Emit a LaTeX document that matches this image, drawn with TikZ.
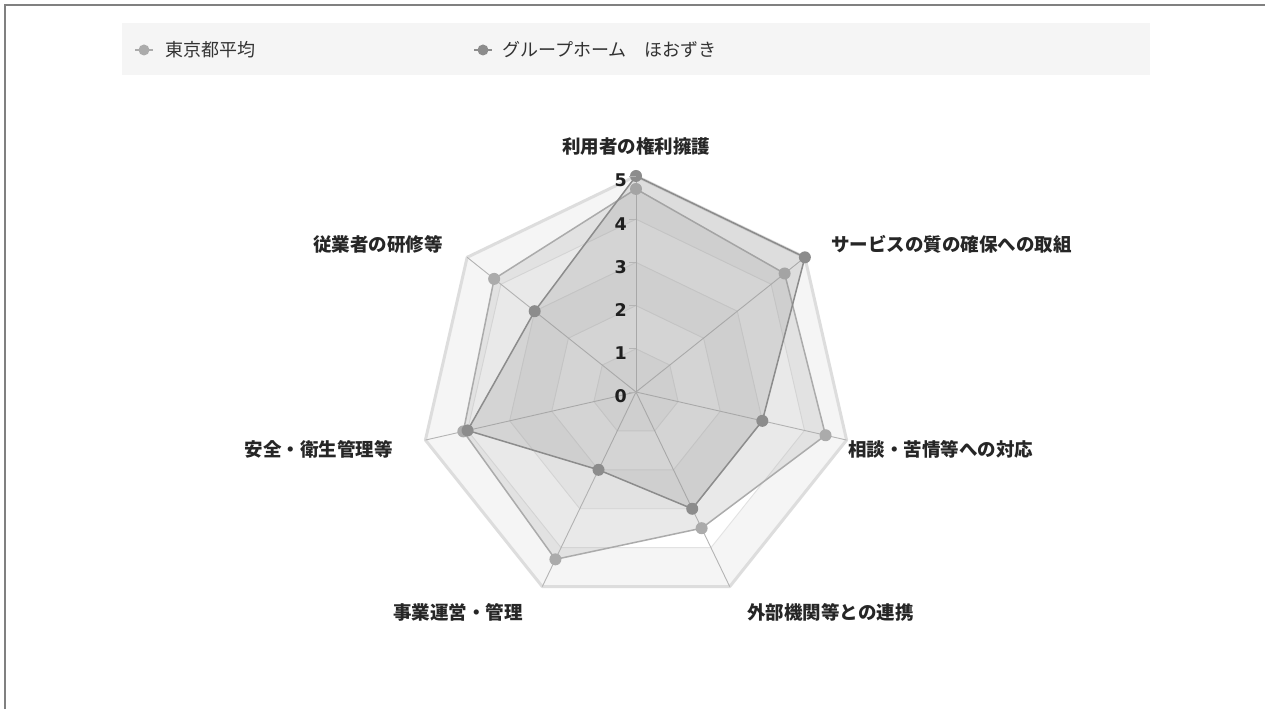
\documentclass[tikz,border=0pt]{standalone}
\usepackage{fontspec}
\setmainfont{Noto Sans CJK JP}
\newfontfamily\numfont[BoldFont={DejaVu Sans Bold}]{DejaVu Sans}
\definecolor{framecol}{HTML}{808080}
\definecolor{legbg}{HTML}{F5F5F5}
\definecolor{banddark}{HTML}{F5F5F5}
\definecolor{gridcol}{HTML}{E2E2E2}
\definecolor{outercol}{HTML}{DDDDDD}
\definecolor{spokecol}{HTML}{B4B4B4}
\definecolor{lightcol}{HTML}{ABABAB}
\definecolor{darkcol}{HTML}{8C8C8C}
\tikzset{
  axlbl/.style={font=\fontsize{18.5}{20}\selectfont\bfseries, inner sep=0pt, text=black!85},
  leglbl/.style={font=\fontsize{18}{20}\selectfont, inner sep=0pt, anchor=west, text=black!80},
  numlbl/.style={font=\numfont\bfseries\fontsize{17.5}{19}\selectfont, inner sep=0pt, anchor=east, text=black!88},
  spoke/.style={draw=spokecol, line width=0.9pt},
  gridline/.style={draw=gridcol, line width=0.9pt},
  outerline/.style={draw=outercol, line width=3pt, line join=round},
  lightser/.style={draw=lightcol, line width=1.5pt, fill=lightcol, fill opacity=0.25, line join=round},
  darkser/.style={draw=darkcol, line width=1.5pt, fill=darkcol, fill opacity=0.22, line join=round},
  lightmk/.style={fill=lightcol},
  darkmk/.style={fill=darkcol},
}
\begin{document}
\begin{tikzpicture}[x=1pt,y=1pt]
\useasboundingbox (0,0) rectangle (1265,709);
\fill[white] (0,0) rectangle (1265,709);
% frame
\coordinate (fb) at (4.5,0);
\coordinate (ftl) at (4.5,703.5);
\coordinate (ftr) at (1265,703.5);
\draw[framecol, line width=2pt] (fb) -- (ftl) -- (ftr);
% legend
\fill[legbg] (122,634) rectangle (1150,686);
\coordinate (l1a) at (135,659); \coordinate (l1b) at (153,659); \coordinate (l1c) at (144,659);
\draw[lightcol, line width=1.5pt] (l1a) -- (l1b);
\fill[lightcol] (l1c) circle (5.5);
\node[leglbl] (leg1) at (165,659) {東京都平均};
\coordinate (l2a) at (474,659); \coordinate (l2b) at (492,659); \coordinate (l2c) at (483,659);
\draw[darkcol, line width=1.5pt] (l2a) -- (l2b);
\fill[darkcol] (l2c) circle (5.5);
\node[leglbl] (leg2) at (502,659) {グループホーム　ほおずき};
% chart
\begin{scope}[shift={(636,317)}]
  \coordinate (c) at (0,0);
  \foreach \lv/\col in {5/banddark,4/white,3/banddark,2/white,1/banddark}{
    \fill[\col] (90:\lv*43.2) \foreach \i in {1,...,6}{ -- (90-\i*360/7:\lv*43.2)} -- cycle;
  }
  \foreach \lv in {1,...,4}{
    \draw[gridline] (90:\lv*43.2) \foreach \i in {1,...,6}{ -- (90-\i*360/7:\lv*43.2)} -- cycle;
  }
  \draw[outerline] (90:216) \foreach \i in {1,...,6}{ -- (90-\i*360/7:216)} -- cycle;
  \foreach \i in {0,...,6}{
    \coordinate (v\i) at (90-\i*360/7:216);
    \draw[spoke] (c) -- (v\i);
  }
  % series 1
  \foreach \v [count=\j from 0] in {4.7,4.4,4.5,3.5,4.3,4.1,4.2}{
    \coordinate (a\j) at (90-\j*360/7:\v*43.2);
  }
  \path[lightser] (a0) -- (a1) -- (a2) -- (a3) -- (a4) -- (a5) -- (a6) -- cycle;
  \foreach \j in {0,...,6}{ \fill[lightmk] (a\j) circle (6); }
  % series 2
  \foreach \v [count=\j from 0] in {5,5,3,3,2,4,3}{
    \coordinate (b\j) at (90-\j*360/7:\v*43.2);
  }
  \path[darkser] (b0) -- (b1) -- (b2) -- (b3) -- (b4) -- (b5) -- (b6) -- cycle;
  \foreach \j in {0,...,6}{ \fill[darkmk] (b\j) circle (6); }
  % scale ticks and numbers
  \foreach \k in {0,...,5}{
    \coordinate (t\k) at (0,\k*43.2);
    \draw[spoke] (t\k) -- ++(-7,0);
    \node[numlbl] (n\k) at (-9,\k*43.2-4.5) {\k};
  }
\end{scope}
% axis labels
\node[axlbl, anchor=center] (L0) at (636,563) {利用者の権利擁護};
\node[axlbl, anchor=west] (L1) at (831,465) {サービスの質の確保への取組};
\node[axlbl, anchor=west] (L2) at (848,260) {相談・苦情等への対応};
\node[axlbl, anchor=west] (L3) at (747,97) {外部機関等との連携};
\node[axlbl, anchor=east] (L4) at (523,97) {事業運営・管理};
\node[axlbl, anchor=east] (L5) at (393,260) {安全・衛生管理等};
\node[axlbl, anchor=east] (L6) at (443,465) {従業者の研修等};
\end{tikzpicture}
\end{document}
